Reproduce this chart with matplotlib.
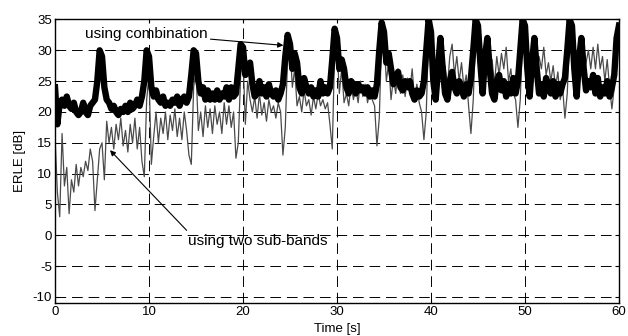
import numpy as np
import matplotlib
matplotlib.use("Agg")
import matplotlib.pyplot as plt

plt.rcParams["font.family"] = ["Liberation Sans", "DejaVu Sans"]
plt.rcParams["axes.unicode_minus"] = False

# time axis, one sample every 0.25 s
time_s = np.arange(0, 60.01, 0.25)

# ERLE using the combination (thick black), 5 s per row
erle_comb = [
    24, 18, 21.5, 22, 21, 22.5, 21, 20.5, 21.5, 20, 19.5, 20, 21.5, 20, 19.5, 21, 21.5, 22, 25, 30,
    29, 24, 22, 21.5, 20.5, 21, 20, 19.5, 20.5, 20, 21, 20, 21.5, 20.5, 21, 22, 21, 22.5, 25, 30,
    29, 24, 22.5, 23.5, 22, 21.5, 22.5, 21, 21.5, 21, 22, 21.5, 22.5, 21, 22, 22.5, 21.5, 22.5, 26, 30,
    29.5, 25, 23, 24, 22, 23.5, 22, 23, 22, 23.5, 22, 23, 22.5, 24, 22, 24, 22.5, 23, 27, 31,
    30.5, 26, 27.5, 28, 24.5, 22.5, 23, 25, 23, 24, 22.5, 24.5, 23, 22.5, 23.5, 22, 23, 24.5, 29, 32.5,
    31, 27, 29.5, 28, 24, 23, 25.5, 24, 23, 24, 22.5, 23.5, 22.5, 25, 23, 24, 23, 24, 28.5, 33.5,
    32, 27, 28.5, 27, 24, 23, 25, 24.5, 23, 24.5, 23.5, 24, 23, 24, 22.5, 23.5, 22.5, 24.5, 30, 34.5,
    33, 28, 29.5, 27, 24.5, 25.5, 26.5, 24, 23.5, 25, 24, 25, 23, 22, 23.5, 22.5, 23, 25, 30, 35,
    33, 25, 22, 27, 32, 27, 23, 22, 25, 26.5, 24, 23, 25, 24, 22.5, 24.5, 23, 25.5, 30, 35,
    34, 28, 23, 29, 32, 27, 23, 22, 25, 26, 23.5, 25, 22.5, 24.5, 23, 25.5, 23, 25, 30, 35,
    34, 27, 22.5, 28, 32, 27, 23, 24.5, 22.5, 25.5, 24, 23, 25, 22.5, 24.5, 23, 24.5, 25.5, 30, 35,
    34, 27, 22.5, 28.5, 32, 27, 23.5, 25, 24, 26, 23, 25.5, 22.5, 24, 23, 25, 22.5, 24, 26, 32,
    34,
]

# ERLE using two sub-bands (thin grey)
erle_two = [
    16, 7, 3, 16.5, 8, 11, 3.5, 9, 7, 11.5, 8, 11, 9.5, 12, 10.5, 14, 12, 4, 9, 14,
    15, 9, 18.5, 15, 17.5, 14, 18, 15.5, 19, 14.5, 17, 13.5, 18, 15, 19, 14, 17.5, 12, 9.5, 22,
    26, 11.5, 16, 20, 15, 19, 16.5, 20, 15.5, 19.5, 17, 20.5, 16, 19, 15.5, 20, 17, 13, 11.5, 24,
    27, 17, 20, 16, 21, 17.5, 20.5, 16.5, 21, 18, 20, 16.5, 21.5, 18, 21, 17.5, 20, 12.5, 15, 26,
    29, 18, 25, 22, 20, 22.5, 19, 23, 19.5, 21.5, 18.5, 22, 20, 21, 19, 21.5, 20, 13, 17.5, 29,
    31, 24, 27, 21, 22.5, 20, 23.5, 21, 22, 19.5, 22.5, 20.5, 23, 21, 22, 20.5, 21.5, 18, 14, 30,
    31, 23, 27, 21.5, 23, 21, 24.5, 22, 24, 21.5, 25, 22.5, 24.5, 21.5, 23.5, 22, 21, 14.5, 19, 32,
    32, 25, 28, 22, 25.5, 23, 27, 23, 26, 22.5, 25.5, 23.5, 27, 22, 24.5, 21.5, 20, 15.5, 20, 33,
    33, 23, 27, 24, 29, 25, 27.5, 24, 29, 31, 26, 29, 25, 28, 24, 26, 21, 16.5, 22, 33,
    33, 25, 28, 25, 29, 26, 28.5, 24.5, 29, 26, 29.5, 27, 30.5, 25, 27, 23, 22, 17.5, 22, 33,
    33, 25, 28, 25.5, 28, 26, 29, 27, 30.5, 26, 28, 25, 27.5, 24, 26.5, 22, 24, 19, 23, 33,
    33, 26, 28.5, 25, 29, 26.5, 28, 30, 27, 30.5, 27, 31, 27, 29, 25, 28.5, 24, 20.5, 24, 29,
    32,
]

x_ticks = [0, 10, 20, 30, 40, 50, 60]
y_ticks = [-10, -5, 0, 5, 10, 15, 20, 25, 30, 35]

fig = plt.figure(figsize=(6.28, 3.36), dpi=100)
ax = fig.add_axes([0.0876, 0.098, 0.898, 0.844])

ax.plot(time_s, erle_two, color="#4a4a4a", linewidth=0.9)
ax.plot(time_s, erle_comb, color="black", linewidth=4.6, solid_joinstyle="round")

ax.set_xlim(0, 60)
ax.set_ylim(-11, 35)
ax.set_xticks(x_ticks)
ax.set_yticks(y_ticks)
ax.grid(True, color="black", linestyle=(0, (11, 6)), linewidth=0.7)
ax.tick_params(direction="in", top=True, right=True, labelsize=9.5, length=3, pad=2)
for s in ax.spines.values():
    s.set_linewidth(1.0)

ax.set_xlabel("Time [s]", fontsize=9.5, labelpad=3.5)
ax.set_ylabel("ERLE [dB]", fontsize=9.5, labelpad=5)

ax.annotate("using combination", xy=(24.3, 30.8), xytext=(3.2, 32.7),
            fontsize=11, va="center", ha="left",
            arrowprops=dict(arrowstyle="-|>", color="black", lw=0.8,
                            shrinkA=0, shrinkB=0, mutation_scale=8))
ax.annotate("", xy=(5.85, 13.8), xytext=(14.0, 0.8),
            arrowprops=dict(arrowstyle="-|>", color="black", lw=0.8,
                            shrinkA=0, shrinkB=0, mutation_scale=8))
ax.text(14.1, -1.0, "using two sub-bands", fontsize=11, va="center", ha="left")

fig.savefig("out.png", dpi=100)
